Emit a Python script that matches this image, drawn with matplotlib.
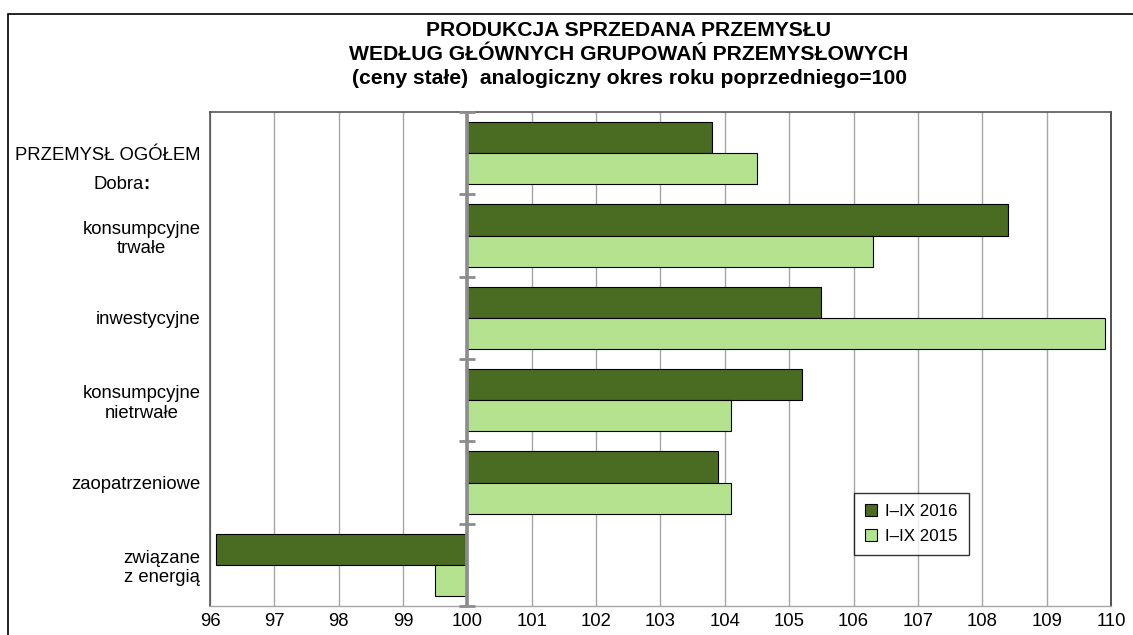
import matplotlib
matplotlib.use("Agg")
import matplotlib.pyplot as plt
from matplotlib.patches import Patch, Rectangle
import numpy as np

plt.rcParams['font.family'] = ['Liberation Sans', 'DejaVu Sans']

categories = ["PRZEMYSŁ OGÓŁEM", "konsumpcyjne\ntrwałe", "inwestycyjne",
              "konsumpcyjne\nnietrwałe", "zaopatrzeniowe", "związane\nz energią"]
values_2016 = [103.8, 108.4, 105.5, 105.2, 103.9, 96.1]
values_2015 = [104.5, 106.3, 109.9, 104.1, 104.1, 99.5]
series_labels = ["I–IX 2016", "I–IX 2015"]
xticks = list(range(96, 111))
title_lines = ["PRODUKCJA SPRZEDANA PRZEMYSŁU",
               "WEDŁUG GŁÓWNYCH GRUPOWAŃ PRZEMYSŁOWYCH",
               "(ceny stałe)  analogiczny okres roku poprzedniego=100"]

W, H = 1133, 635
fig = plt.figure(figsize=(W/100, H/100), dpi=100)
fig.patch.set_facecolor('white')

def fx(px): return px / W
def fy(py): return 1 - py / H

ax = fig.add_axes([fx(210), fy(606), fx(1111) - fx(210), fy(112) - fy(606)])

c16 = '#4a6b22'
c15 = '#b5e28f'
base = 100
y = np.arange(len(categories))
bh = 0.38
ax.barh(y - bh/2, np.array(values_2016) - base, left=base, height=bh,
        color=c16, edgecolor='black', linewidth=0.8, zorder=2)
ax.barh(y + bh/2, np.array(values_2015) - base, left=base, height=bh,
        color=c15, edgecolor='black', linewidth=0.8, zorder=2)

ax.set_xlim(96, 110)
ax.set_ylim(len(categories) - 0.5, -0.5)
ax.set_xticks(xticks)
ax.set_xticklabels([str(t) for t in xticks], fontsize=13.3)
ax.grid(axis='x', color='#a6a6a6', linewidth=1, zorder=0)
ax.set_axisbelow(True)
ax.tick_params(axis='x', length=0, pad=5)
ax.set_yticks(y)
ax.set_yticklabels(categories, fontsize=13.3)
for lbl in ax.get_yticklabels():
    lbl.set_multialignment('center')
ax.tick_params(axis='y', length=0, pad=7)

# axis line at 100 and separator ticks
ax.axvline(base, color='#8c8c8c', linewidth=2.6, zorder=3)
seps = np.arange(len(categories) + 1) - 0.5
ax.plot([base] * len(seps), seps, linestyle='none', marker='_', markersize=11,
        markeredgewidth=2, color='#8c8c8c', zorder=4, clip_on=False)

for side in ['left', 'top']:
    ax.spines[side].set_color('#555555')
    ax.spines[side].set_linewidth(1.2)
ax.spines['right'].set_color('#333333')
ax.spines['right'].set_linewidth(1.2)
ax.spines['bottom'].set_color('#a6a6a6')
ax.spines['bottom'].set_linewidth(1)

# "Dobra:" sub-header
fig.text(fx(144), fy(185), "Dobra", fontsize=13.3, ha='right', va='center')
fig.text(fx(143.5), fy(185), ":", fontsize=13.3, ha='left', va='center', fontweight='bold')

# title
for i, line in enumerate(title_lines):
    fig.text(fx(629), fy(31 + 24 * i), line, fontsize=15.2, fontweight='bold',
             ha='center', va='center')

# legend
handles = [Patch(facecolor=c16, edgecolor='black', linewidth=0.8),
           Patch(facecolor=c15, edgecolor='black', linewidth=0.8)]
leg = fig.legend(handles, series_labels, loc='upper left',
                 bbox_to_anchor=(fx(854), fy(493)), fontsize=12.2,
                 frameon=True, fancybox=False, handlelength=0.7, handleheight=0.7,
                 handletextpad=0.5, labelspacing=0.6, borderpad=0.65, borderaxespad=0)
leg.get_frame().set_edgecolor('black')
leg.get_frame().set_linewidth(1)

# outer frame
fig.patches.append(Rectangle((fx(8), fy(H + 10)), fx(W + 10) - fx(8), fy(14) - fy(H + 10),
                             transform=fig.transFigure, fill=False,
                             edgecolor='black', linewidth=1.2))

fig.savefig("out.png", dpi=100)
